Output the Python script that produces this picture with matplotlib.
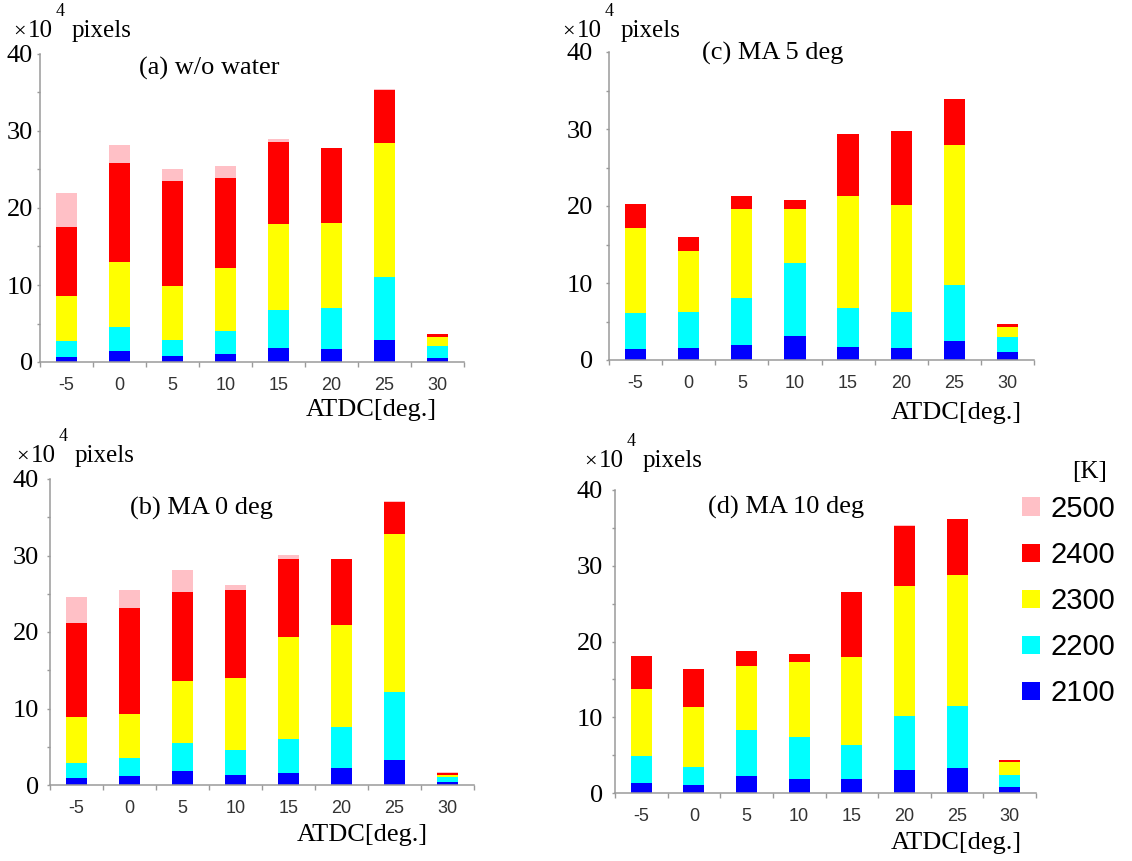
import matplotlib
matplotlib.use("Agg")
import matplotlib.pyplot as plt
from matplotlib.ticker import FixedLocator

W, H = 1132, 861

# Crank angle categories (deg ATDC) and temperature classes [K]
atdc = ["-5", "0", "5", "10", "15", "20", "25", "30"]
temps = ["2100", "2200", "2300", "2400", "2500"]
colors = ["#0000FF", "#00FFFF", "#FFFF00", "#FF0000", "#FFC0C6"]
yticks = [0, 10, 20, 30, 40]

# Pixel counts (x10^4) per temperature class
# (a) w/o water
a_2100 = [0.65, 1.38, 0.74, 0.99, 1.82, 1.64, 2.81, 0.52]
a_2200 = [2.07, 3.20, 2.16, 3.07, 4.93, 5.37, 8.22, 1.51]
a_2300 = [5.80, 8.44, 7.00, 8.18, 11.20, 11.02, 17.47, 1.21]
a_2400 = [8.95, 12.80, 13.62, 11.63, 10.63, 9.73, 6.83, 0.35]
a_2500 = [4.53, 2.33, 1.52, 1.56, 0.39, 0.09, 0.17, 0.00]

# (b) MA 0 deg
b_2100 = [0.87, 1.13, 1.79, 1.31, 1.53, 2.22, 3.22, 0.44]
b_2200 = [2.01, 2.36, 3.74, 3.22, 4.53, 5.36, 8.94, 0.61]
b_2300 = [6.05, 5.83, 8.11, 9.46, 13.24, 13.38, 20.61, 0.26]
b_2400 = [12.25, 13.77, 11.63, 11.54, 10.24, 8.54, 4.22, 0.26]
b_2500 = [3.35, 2.40, 2.83, 0.61, 0.57, 0.09, 0.09, 0.09]

# (c) MA 5 deg
c_2100 = [1.39, 1.61, 1.91, 3.09, 1.74, 1.61, 2.52, 1.00]
c_2200 = [4.65, 4.61, 6.18, 9.48, 4.96, 4.65, 7.26, 1.96]
c_2300 = [11.13, 7.95, 11.48, 7.04, 14.65, 13.91, 18.18, 1.39]
c_2400 = [3.13, 1.79, 1.78, 1.13, 8.00, 9.57, 6.00, 0.35]
c_2500 = [0.00, 0.00, 0.00, 0.00, 0.06, 0.06, 0.00, 0.00]

# (d) MA 10 deg
d_2100 = [1.28, 1.01, 2.25, 1.81, 1.89, 3.00, 3.35, 0.75]
d_2200 = [3.65, 2.38, 6.08, 5.55, 4.50, 7.13, 8.10, 1.58]
d_2300 = [8.77, 7.98, 8.50, 9.91, 11.50, 17.18, 17.27, 1.77]
d_2400 = [4.41, 5.02, 1.98, 1.10, 8.59, 7.93, 7.40, 0.26]
d_2500 = [0.00, 0.00, 0.00, 0.00, 0.10, 0.10, 0.10, 0.00]

SERIF = ["Liberation Serif", "DejaVu Serif"]
SANS = ["Liberation Sans", "DejaVu Sans"]
AXIS_GRAY = "#9a9a9a"

plt.rcParams["font.family"] = SERIF

fig = plt.figure(figsize=(W / 100, H / 100), dpi=100)


def ptext(x, y, s, **kw):
    """Place text using pixel coordinates measured from the top-left."""
    return fig.text(x / W, 1 - y / H, s, **kw)


panels = [
    dict(box=(40, 464, 362, 54), title="(a) w/o water", title_xy=(139, 68),
         unit_xy=(13, 37), xlabel_xy=(437, 410), ypad=2.5,
         stacks=[a_2100, a_2200, a_2300, a_2400, a_2500]),
    dict(box=(609, 1034, 360, 52), title="(c) MA 5 deg", title_xy=(702, 53),
         unit_xy=(562, 37), xlabel_xy=(1022, 413), ypad=9,
         stacks=[c_2100, c_2200, c_2300, c_2400, c_2500]),
    dict(box=(50, 474, 785, 479), title="(b) MA 0 deg", title_xy=(130, 508),
         unit_xy=(16, 462), xlabel_xy=(428, 835), ypad=5.5,
         stacks=[b_2100, b_2200, b_2300, b_2400, b_2500]),
    dict(box=(615, 1036, 793, 490), title="(d) MA 10 deg", title_xy=(708, 507),
         unit_xy=(584, 467), xlabel_xy=(1022, 843), ypad=6,
         stacks=[d_2100, d_2200, d_2300, d_2400, d_2500]),
]

legend_handles = None
for p in panels:
    x0, x1, y0, y40 = p["box"]
    ax = fig.add_axes([x0 / W, 1 - y0 / H, (x1 - x0) / W, (y0 - y40) / H])
    pos = list(range(len(atdc)))
    bottom = [0.0] * len(atdc)
    handles = []
    for vals, col in zip(p["stacks"], colors):
        bars = ax.bar(pos, vals, width=0.4, bottom=bottom, color=col,
                      linewidth=0)
        handles.append(bars)
        bottom = [b + v for b, v in zip(bottom, vals)]
    legend_handles = handles

    ax.set_xlim(-0.5, len(atdc) - 0.5)
    ax.set_ylim(0, 40)
    for side in ("top", "right"):
        ax.spines[side].set_visible(False)
    for side in ("left", "bottom"):
        ax.spines[side].set_color(AXIS_GRAY)
        ax.spines[side].set_linewidth(1.1)

    # category labels centred on bars, tick marks on the boundaries
    ax.xaxis.set_major_locator(FixedLocator(pos))
    ax.xaxis.set_minor_locator(FixedLocator([i - 0.5 for i in range(len(atdc) + 1)]))
    ax.set_xticklabels(atdc)
    ax.tick_params(axis="x", which="major", length=0, pad=10.5)
    ax.tick_params(axis="x", which="minor", length=3.6, width=1.0,
                   color=AXIS_GRAY, direction="out")

    ax.yaxis.set_major_locator(FixedLocator(yticks))
    ax.yaxis.set_minor_locator(FixedLocator([v + 5 for v in yticks[:-1]]))
    ax.set_yticklabels([str(v) for v in yticks])
    ax.tick_params(axis="y", which="both", length=2.5, width=1.0,
                   color=AXIS_GRAY, direction="out", pad=p["ypad"])

    for lbl in ax.get_xticklabels():
        lbl.set_fontfamily(SANS)
        lbl.set_fontsize(13)
        lbl.set_color("#333333")
    for lbl in ax.get_yticklabels():
        lbl.set_fontfamily(SERIF)
        lbl.set_fontsize(19)
        lbl.set_color("black")

    tx, ty = p["title_xy"]
    ptext(tx, ty, p["title"], family=SERIF, fontsize=19, ha="left",
          va="center")
    lx, ly = p["xlabel_xy"]
    ptext(lx, ly, "ATDC[deg.]", family=SERIF, fontsize=19, ha="right",
          va="center")
    ux, uy = p["unit_xy"]
    ptext(ux, uy, "\u00d7", family=SERIF, fontsize=16, ha="left",
          va="baseline")
    ptext(ux + 15, uy, "10", family=SERIF, fontsize=18, ha="left",
          va="baseline")
    ptext(ux + 43, uy - 21, "4", family=SERIF, fontsize=13, ha="left",
          va="baseline")
    ptext(ux + 59, uy, "pixels", family=SERIF, fontsize=18, ha="left",
          va="baseline")

# Temperature legend, hottest class on top
ptext(1090, 472, "[K]", family=SERIF, fontsize=18, ha="center", va="center")
fig.legend(legend_handles[::-1], temps[::-1], loc="upper left",
           bbox_to_anchor=(1022 / W, 1 - 495 / H), frameon=False,
           prop={"family": SANS, "size": 21}, handlelength=0.6,
           handleheight=0.6, handletextpad=0.38, labelspacing=0.62,
           borderpad=0, borderaxespad=0)

fig.savefig("out.png", dpi=100, facecolor="white")
